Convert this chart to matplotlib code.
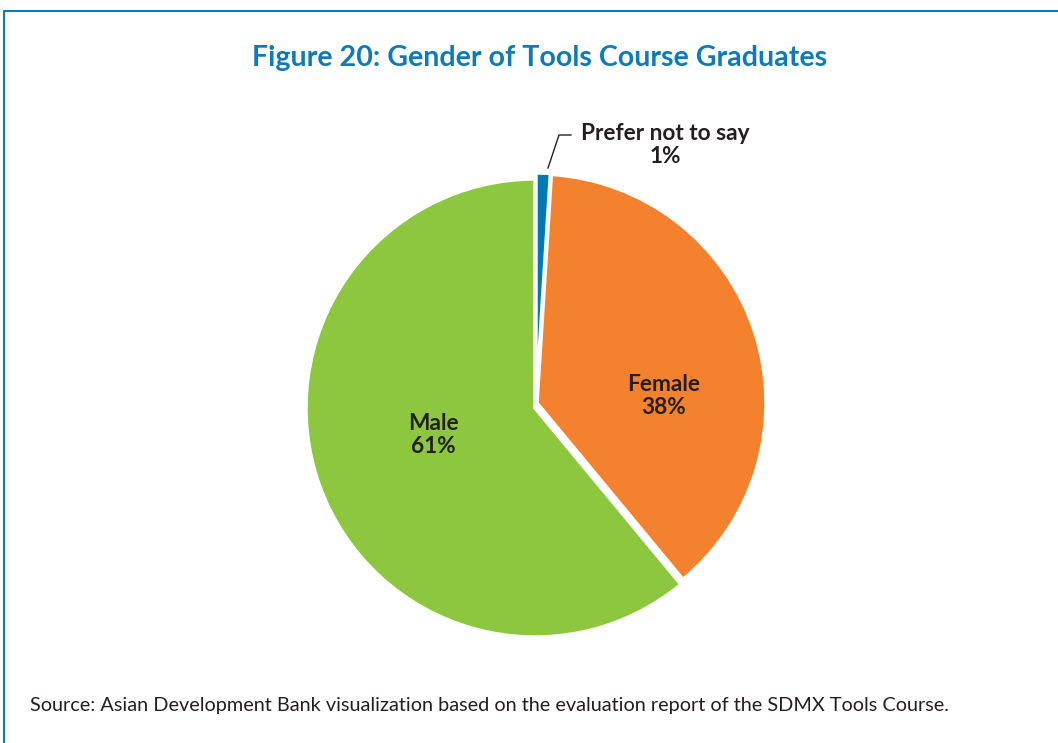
import matplotlib.pyplot as plt
from matplotlib.lines import Line2D

# data
labels = ['Male', 'Female', 'Prefer not to say']
shares = [61, 38, 1]
colors = ['#8dc63f', '#f3812d', '#0079b5']

W, H = 1058, 743
TITLE_BLUE = '#0f7ab8'
TXT = '#231f20'

fig = plt.figure(figsize=(W / 100, H / 100), dpi=100)
ax = fig.add_axes([0, 0, 1, 1])

cx, cy, r = 535, H - 408, 229
wedges, _ = ax.pie(shares, colors=colors, startangle=90, counterclock=True,
                   center=(cx, cy), radius=r,
                   wedgeprops=dict(edgecolor='white', linewidth=2.5))
# nudge the small slices out a touch, like the original
wedges[1].set_center((cx + 2, cy + 5))
wedges[2].set_center((cx + 1, cy + 6))

ax.set_xlim(0, W)
ax.set_ylim(0, H)
ax.set_aspect('auto')
ax.axis('off')

lab_font = dict(family='Lato', fontweight='bold', fontsize=16.3, color=TXT,
                ha='center', va='center', linespacing=1.1)
ax.text(433, H - 435, f'{labels[0]}\n{shares[0]}%', **lab_font)
ax.text(664, H - 396, f'{labels[1]}\n{shares[1]}%', **lab_font)
ax.text(665, H - 145, f'{labels[2]}\n{shares[2]}%', **lab_font)

# leader line for the tiny slice
ax.add_line(Line2D([548, 559, 571], [H - 168, H - 135, H - 135],
                   color=TXT, linewidth=1))

fig.text(540 / W, 1 - 58 / H, 'Figure 20: Gender of Tools Course Graduates',
         family='Lato', fontweight='bold', fontsize=20.6, color=TITLE_BLUE,
         ha='center', va='center')
fig.text(30 / W, 1 - 706 / H,
         'Source: Asian Development Bank visualization based on the evaluation report of the SDMX Tools Course.',
         family='Lato', fontweight='normal', fontsize=14.3, color=TXT,
         ha='left', va='center')

# frame: top and left edges only
ax.add_line(Line2D([4, 4, W], [0, H - 11, H - 11], color=TITLE_BLUE, linewidth=1.5))

fig.savefig('out.png', dpi=100, facecolor='white')
